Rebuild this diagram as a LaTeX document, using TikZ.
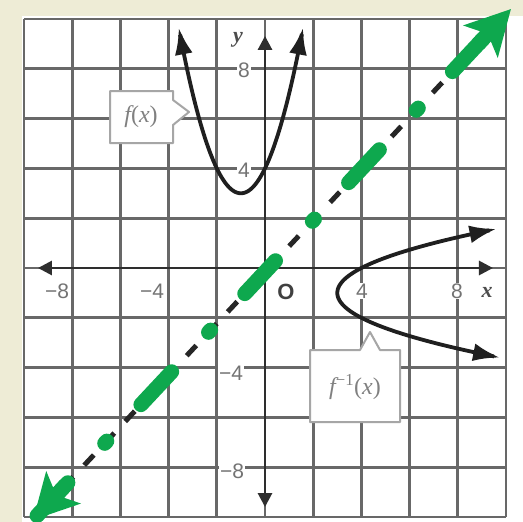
\documentclass[tikz,border=0pt]{standalone}
\usepackage{fontspec}
\setmainfont{Liberation Sans}
\newfontfamily\serifface{Liberation Serif}
\usetikzlibrary{arrows.meta,calc}
\definecolor{cream}{HTML}{EEECD6}
\definecolor{lgreen}{RGB}{14,168,78}
\definecolor{gridc}{HTML}{686868}
\tikzset{
  gridline/.style={draw=gridc, line width=2.8pt},
  axisline/.style={draw=black!82, line width=2.8pt, {Triangle[length=14pt,width=14pt]}-{Triangle[length=14pt,width=14pt]}},
  curve/.style={draw=black!88, line width=3.8pt, {Latex[length=27pt,width=18pt]}-{Latex[length=27pt,width=18pt]}},
  ticklab/.style={font=\fontsize{21}{21}\selectfont, text=black!55, fill=white, inner sep=1pt},
  axislab/.style={font=\fontsize{22}{22}\selectfont\serifface\bfseries\itshape, text=black!70, fill=white, inner sep=1pt},
  originlab/.style={font=\fontsize{22}{22}\selectfont\bfseries, text=black!75, fill=white, inner sep=1pt},
  callout/.style={draw=black!35, fill=white, line width=2pt, line join=round},
  calltext/.style={font=\fontsize{24}{24}\selectfont\serifface, text=black!50},
  blackdash/.style={draw=black!85, line width=5pt, dash pattern=on 14pt off 16pt, dash phase=15pt},
  greendash/.style={draw=lgreen, line width=15pt, line cap=round, dash pattern=on 45pt off 54pt on 3pt off 50pt, dash phase=146pt},
  greentip/.style={draw=lgreen, line width=15pt, -{Stealth[length=44pt,width=46pt,inset=10pt]}}
}
\begin{document}
\begin{tikzpicture}[x=1pt,y=-1pt]
\useasboundingbox (0,0) rectangle (523,522);
\fill[cream] (0,0) rectangle (523,522);
\fill[white] (22,16) rectangle (523,522);

\begin{scope}[shift={(265,268)}, x=24.1pt, y=24.9pt]
  \foreach \v in {-10,-8,...,10} {
    \draw[gridline] (\v,-10) -- (\v,10);
    \draw[gridline] (-10,\v) -- (10,\v);
  }
  \coordinate (xl) at (-9.42,0);
  \coordinate (xr) at (9.46,0);
  \coordinate (yb) at (0,-9.6);
  \coordinate (yt) at (0,9.32);
  \draw[axisline] (xl) -- (xr);
  \draw[axisline] (yb) -- (yt);
\end{scope}

% tick labels
\node[ticklab] (xm8) at (57,291) {−8};
\node[ticklab] (xm4) at (152,291) {−4};
\node[originlab] (org) at (286,292) {O};
\node[ticklab] (xp4) at (362,291) {4};
\node[ticklab] (xp8) at (457,291) {8};
\node[axislab] (xlab) at (487,292) {x};
\node[axislab] (ylab) at (238,40) {y};
\node[ticklab] (yp8) at (244,70) {8};
\node[ticklab] (yp4) at (244,170) {4};
\node[ticklab] (ym4) at (231,373) {−4};
\node[ticklab] (ym8) at (232,471) {−8};

% callouts
\draw[callout] (110,91) -- (173,91) -- (173,100) -- (189,112) -- (173,125) -- (173,143) -- (110,143) -- cycle;
\node[calltext] (flab) at (141,117) {\itshape f\upshape(\itshape x\upshape)};
\draw[callout] (310,350) -- (360,350) -- (370,332) -- (380,350) -- (400,350) -- (400,422) -- (310,422) -- cycle;
\node[calltext] (finvlab) at (355,387) {\itshape f\upshape\textsuperscript{−1}(\itshape x\upshape)};

% curves
\begin{scope}[shift={(265,268)}, x=24.1pt, y=24.9pt]
  \draw[curve] plot[domain=-3.58:1.58, samples=80, smooth] (\x, {(\x+1)^2+3});
  \draw[curve] plot[domain=1.57:-3.6, samples=80, smooth] ({(\x+1)^2+3}, \x);
\end{scope}

% line y = x
\coordinate (gA) at (33,520);
\coordinate (gB) at (511,9);
\draw[blackdash] (gA) -- (gB);
\draw[greendash] (gA) -- (gB);
\draw[greentip] ($(gA)!48pt!(gB)$) -- (gA);
\draw[greentip] ($(gB)!48pt!(gA)$) -- (gB);
\end{tikzpicture}
\end{document}
